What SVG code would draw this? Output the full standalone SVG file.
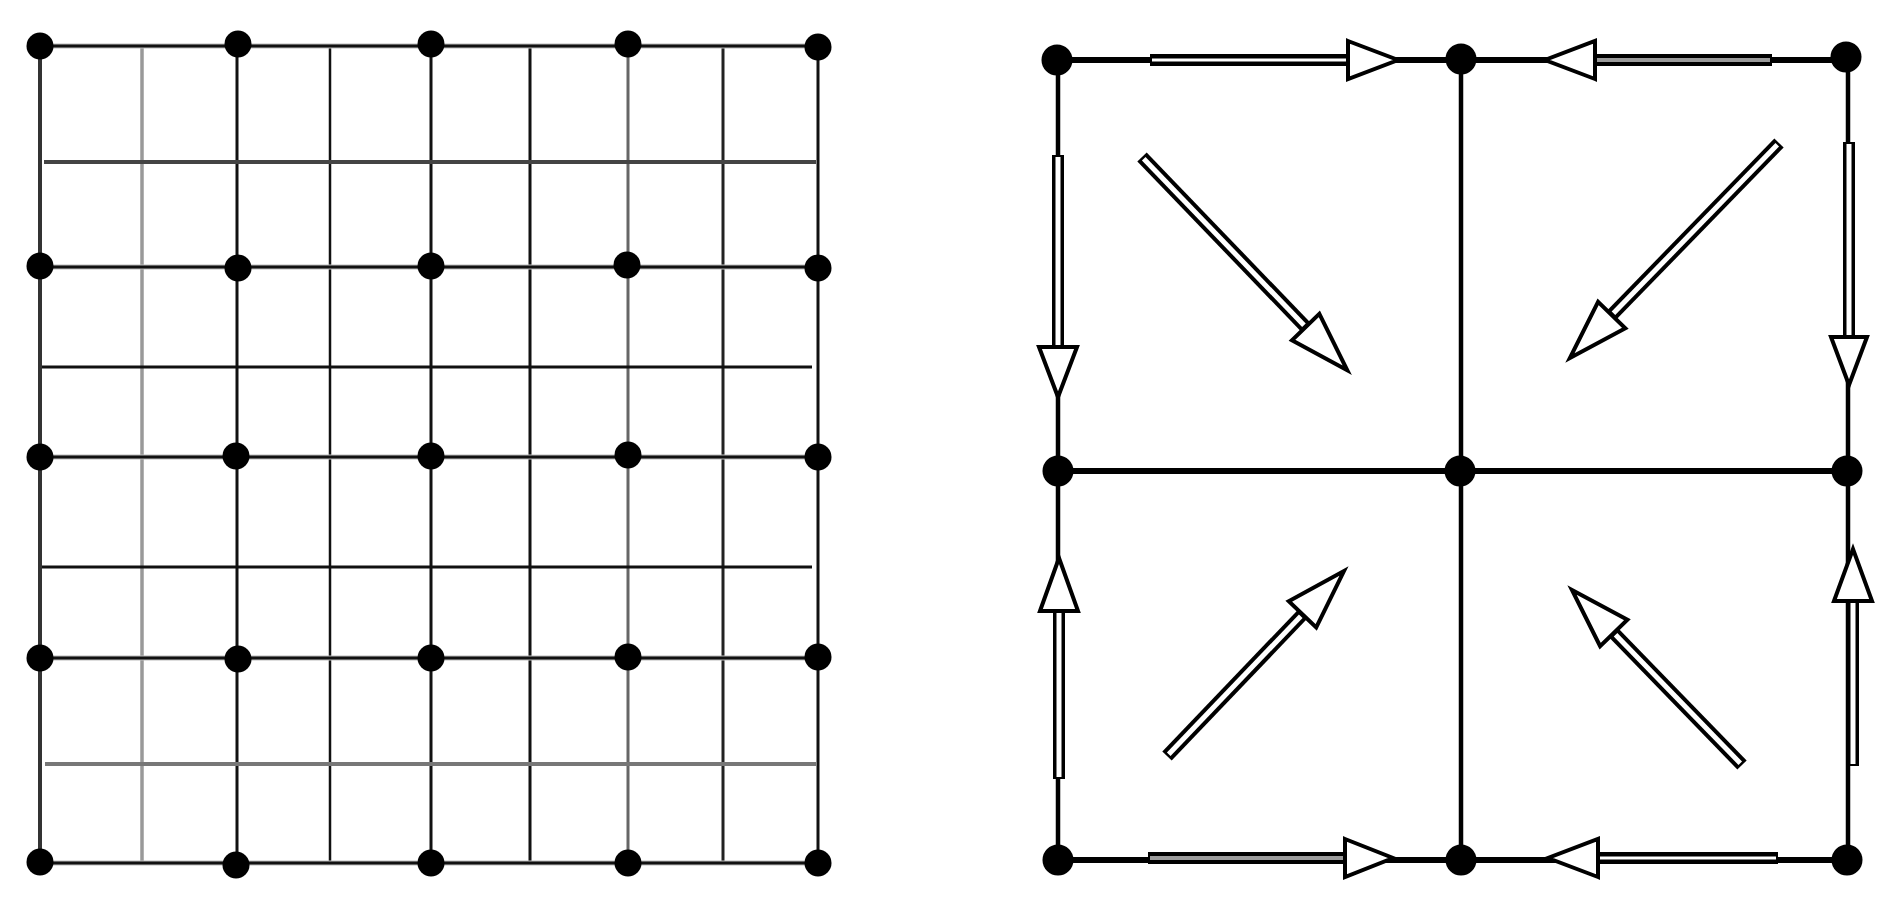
<svg xmlns="http://www.w3.org/2000/svg" width="1879" height="902" viewBox="0 0 1879 902">
<style>
.dot{fill:#000}
.g{fill:none;stroke-linecap:butt}
.shaft{fill:#000}
.inW{fill:#fff}
.inG{fill:#9a9a9a}
.head{fill:#fff;stroke:#000;stroke-width:4;stroke-linejoin:miter}
.main{stroke:#000;fill:none}
</style>
<rect width="1879" height="902" fill="#fff"/>
<g id="connectors">
  <!-- left grid: vertical lines -->
  <g class="g">
    <line x1="40" y1="46" x2="40" y2="863" stroke="#333" stroke-width="4"/>
    <line x1="142" y1="46" x2="142" y2="863" stroke="#999" stroke-width="3.5"/>
    <line x1="237" y1="46" x2="237" y2="863" stroke="#111" stroke-width="3"/>
    <line x1="330" y1="46" x2="330" y2="863" stroke="#111" stroke-width="2.5"/>
    <line x1="431" y1="46" x2="431" y2="863" stroke="#111" stroke-width="3"/>
    <line x1="530" y1="46" x2="530" y2="863" stroke="#111" stroke-width="3"/>
    <line x1="628" y1="46" x2="628" y2="863" stroke="#666" stroke-width="3"/>
    <line x1="723" y1="46" x2="723" y2="863" stroke="#222" stroke-width="3"/>
    <line x1="818" y1="46" x2="818" y2="863" stroke="#111" stroke-width="3"/>
    <!-- intermediate horizontals -->
    <line x1="44" y1="162" x2="816" y2="162" stroke="#444" stroke-width="4"/>
    <line x1="42" y1="367" x2="812" y2="367" stroke="#111" stroke-width="3"/>
    <line x1="42" y1="567" x2="812" y2="567" stroke="#111" stroke-width="3"/>
    <line x1="45" y1="764" x2="816" y2="764" stroke="#777" stroke-width="4"/>
    <!-- dot rows -->
    <line x1="40" y1="46" x2="818" y2="46" stroke="#bbb" stroke-width="5"/>
    <line x1="40" y1="46" x2="818" y2="46" stroke="#111" stroke-width="3"/>
    <line x1="40" y1="267" x2="818" y2="267" stroke="#bbb" stroke-width="5"/>
    <line x1="40" y1="267" x2="818" y2="267" stroke="#111" stroke-width="3"/>
    <line x1="40" y1="457" x2="818" y2="457" stroke="#bbb" stroke-width="5"/>
    <line x1="40" y1="457" x2="818" y2="457" stroke="#111" stroke-width="3"/>
    <line x1="40" y1="658" x2="818" y2="658" stroke="#bbb" stroke-width="5"/>
    <line x1="40" y1="658" x2="818" y2="658" stroke="#111" stroke-width="3"/>
    <line x1="40" y1="863" x2="818" y2="863" stroke="#bbb" stroke-width="5"/>
    <line x1="40" y1="863" x2="818" y2="863" stroke="#111" stroke-width="3"/>
  </g>
  <!-- right diagram: frame lines -->
  <g class="main">
    <line x1="1057" y1="60" x2="1847" y2="60" stroke-width="6"/>
    <line x1="1057" y1="471" x2="1847" y2="471" stroke-width="6"/>
    <line x1="1057" y1="860" x2="1847" y2="860" stroke-width="6"/>
    <line x1="1058" y1="60" x2="1058" y2="860" stroke-width="4.5"/>
    <line x1="1461" y1="60" x2="1461" y2="860" stroke-width="4.5"/>
    <line x1="1848" y1="60" x2="1848" y2="860" stroke-width="4.5"/>
  </g>
  <!-- arrows -->
  <g id="arrow-top-left" transform="translate(1150,60)">
    <rect class="shaft" x="0" y="-6" width="198" height="12"/>
    <rect class="inW" x="2" y="-1.5" width="194" height="3"/>
    <polygon class="head" points="198,-19 248,0 198,19"/>
  </g>
  <g id="arrow-top-right" transform="translate(1772,60) rotate(180)">
    <rect class="shaft" x="0" y="-6" width="177" height="12"/>
    <rect class="inG" x="2" y="-2" width="173" height="4"/>
    <polygon class="head" points="177,-19 227,0 177,19"/>
  </g>
  <g id="arrow-left-down" transform="translate(1058,155) rotate(90)">
    <rect class="shaft" x="0" y="-6" width="192" height="12"/>
    <rect class="inW" x="2" y="-2.5" width="188" height="5"/>
    <polygon class="head" points="192,-19 242,0 192,19"/>
  </g>
  <g id="arrow-right-down" transform="translate(1849,142) rotate(90)">
    <rect class="shaft" x="0" y="-6" width="195" height="12"/>
    <rect class="inW" x="2" y="-2.5" width="191" height="5"/>
    <polygon class="head" points="195,-18 243,0 195,18"/>
  </g>
  <g id="arrow-left-up" transform="translate(1059,779) rotate(-90)">
    <rect class="shaft" x="0" y="-6" width="168" height="12"/>
    <rect class="inW" x="2" y="-2.5" width="164" height="5"/>
    <polygon class="head" points="168,-19 221,0 168,19"/>
  </g>
  <g id="arrow-right-up" transform="translate(1853,766) rotate(-90)">
    <rect class="shaft" x="0" y="-6" width="165" height="12"/>
    <rect class="inW" x="2" y="-2.5" width="161" height="5"/>
    <polygon class="head" points="165,-19 217,0 165,19"/>
  </g>
  <g id="arrow-bottom-left" transform="translate(1148,858)">
    <rect class="shaft" x="0" y="-6" width="197" height="12"/>
    <rect class="inG" x="2" y="-2" width="193" height="4"/>
    <polygon class="head" points="197,-19 245,0 197,19"/>
  </g>
  <g id="arrow-bottom-right" transform="translate(1778,858) rotate(180)">
    <rect class="shaft" x="0" y="-6" width="180" height="12"/>
    <rect class="inW" x="2" y="-1.5" width="176" height="3"/>
    <polygon class="head" points="180,-19 230,0 180,19"/>
  </g>
  <g id="arrow-diag-tl" transform="translate(1142,157) rotate(46.09)">
    <rect class="shaft" x="0" y="-6.5" width="236" height="13"/>
    <rect class="inW" x="2.5" y="-2.5" width="231" height="5"/>
    <polygon class="head" points="236,-19 296,0 236,19"/>
  </g>
  <g id="arrow-diag-tr" transform="translate(1779,143) rotate(134.19)">
    <rect class="shaft" x="0" y="-6.5" width="240" height="13"/>
    <rect class="inW" x="2.5" y="-2.5" width="235" height="5"/>
    <polygon class="head" points="240,-19 300,0 240,19"/>
  </g>
  <g id="arrow-diag-bl" transform="translate(1167,756) rotate(-46.27)">
    <rect class="shaft" x="0" y="-6.5" width="196" height="13"/>
    <rect class="inW" x="2.5" y="-2.5" width="191" height="5"/>
    <polygon class="head" points="196,-19 256,0 196,19"/>
  </g>
  <g id="arrow-diag-br" transform="translate(1742,765) rotate(-134.17)">
    <rect class="shaft" x="0" y="-6.5" width="184" height="13"/>
    <rect class="inW" x="2.5" y="-2.5" width="179" height="5"/>
    <polygon class="head" points="184,-19 244,0 184,19"/>
  </g>
</g>
<!-- left grid nodes -->
<g id="left-nodes">
  <g id="n-1-1"><circle class="dot" cx="40" cy="46" r="13.5"/></g>
  <g id="n-1-2"><circle class="dot" cx="238" cy="44" r="13.5"/></g>
  <g id="n-1-3"><circle class="dot" cx="431" cy="44" r="13.5"/></g>
  <g id="n-1-4"><circle class="dot" cx="628" cy="44" r="13.5"/></g>
  <g id="n-1-5"><circle class="dot" cx="818" cy="47" r="13.5"/></g>
  <g id="n-2-1"><circle class="dot" cx="40" cy="266" r="13.5"/></g>
  <g id="n-2-2"><circle class="dot" cx="238" cy="268" r="13.5"/></g>
  <g id="n-2-3"><circle class="dot" cx="431" cy="266" r="13.5"/></g>
  <g id="n-2-4"><circle class="dot" cx="627" cy="265" r="13.5"/></g>
  <g id="n-2-5"><circle class="dot" cx="818" cy="268" r="13.5"/></g>
  <g id="n-3-1"><circle class="dot" cx="40" cy="457" r="13.5"/></g>
  <g id="n-3-2"><circle class="dot" cx="236" cy="456" r="13.5"/></g>
  <g id="n-3-3"><circle class="dot" cx="431" cy="456" r="13.5"/></g>
  <g id="n-3-4"><circle class="dot" cx="628" cy="455" r="13.5"/></g>
  <g id="n-3-5"><circle class="dot" cx="818" cy="457" r="13.5"/></g>
  <g id="n-4-1"><circle class="dot" cx="40" cy="658" r="13.5"/></g>
  <g id="n-4-2"><circle class="dot" cx="238" cy="659" r="13.5"/></g>
  <g id="n-4-3"><circle class="dot" cx="431" cy="658" r="13.5"/></g>
  <g id="n-4-4"><circle class="dot" cx="628" cy="657" r="13.5"/></g>
  <g id="n-4-5"><circle class="dot" cx="818" cy="657" r="13.5"/></g>
  <g id="n-5-1"><circle class="dot" cx="40" cy="862" r="13.5"/></g>
  <g id="n-5-2"><circle class="dot" cx="236" cy="865" r="13.5"/></g>
  <g id="n-5-3"><circle class="dot" cx="431" cy="863" r="13.5"/></g>
  <g id="n-5-4"><circle class="dot" cx="628" cy="863" r="13.5"/></g>
  <g id="n-5-5"><circle class="dot" cx="818" cy="863" r="13.5"/></g>
</g>
<!-- right diagram nodes -->
<g id="right-nodes">
  <g id="r-1-1"><circle class="dot" cx="1057" cy="60" r="15.5"/></g>
  <g id="r-1-2"><circle class="dot" cx="1461" cy="59" r="15.5"/></g>
  <g id="r-1-3"><circle class="dot" cx="1846" cy="57" r="15.5"/></g>
  <g id="r-2-1"><circle class="dot" cx="1058" cy="471" r="15.5"/></g>
  <g id="r-2-2"><circle class="dot" cx="1460" cy="471" r="15.5"/></g>
  <g id="r-2-3"><circle class="dot" cx="1847" cy="471" r="15.5"/></g>
  <g id="r-3-1"><circle class="dot" cx="1058" cy="860" r="15.5"/></g>
  <g id="r-3-2"><circle class="dot" cx="1461" cy="860" r="15.5"/></g>
  <g id="r-3-3"><circle class="dot" cx="1847" cy="860" r="15.5"/></g>
</g>
</svg>
